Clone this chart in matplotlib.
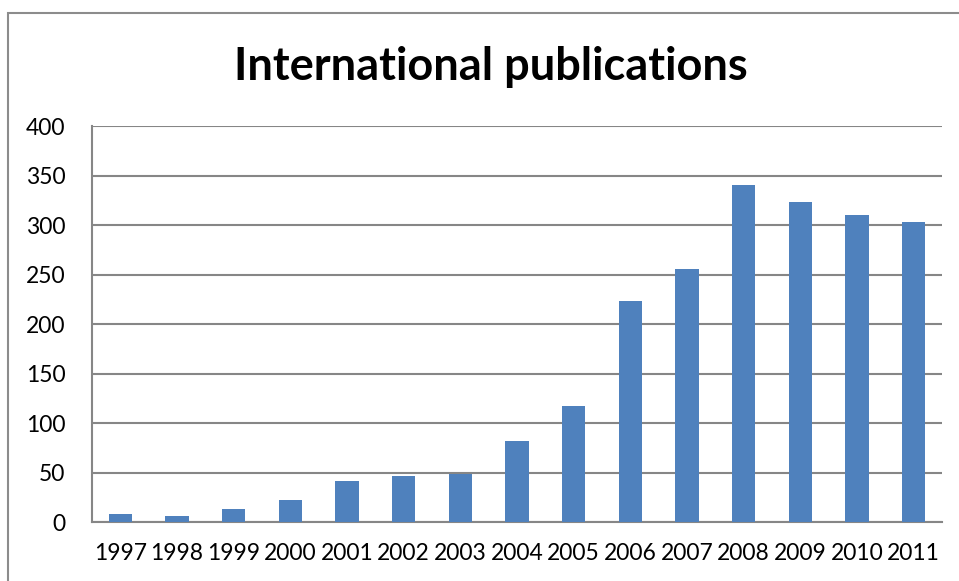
import matplotlib
matplotlib.use("Agg")
import matplotlib.pyplot as plt
from matplotlib.patches import Rectangle

years = ["1997", "1998", "1999", "2000", "2001", "2002", "2003", "2004",
         "2005", "2006", "2007", "2008", "2009", "2010", "2011"]
publications = [8, 6, 13, 22, 41, 46, 49, 82, 117, 223, 256, 340, 323, 310, 303]
yticks = [0, 50, 100, 150, 200, 250, 300, 350, 400]

plt.rcParams['font.family'] = ['Lato', 'DejaVu Sans']

fig = plt.figure(figsize=(9.59, 5.81), dpi=100)
ax = fig.add_axes([0.0959, 0.1015, 0.8864, 0.6816])

# outer chart frame, cut by the right and bottom image edges
fig.patches.append(Rectangle((8 / 959, -0.05), 1.1, 1 - 13 / 581 + 0.05,
                             transform=fig.transFigure, fill=False,
                             edgecolor='#8c8c8c', linewidth=1.5))

x = range(len(years))
ax.bar(x, publications, width=0.41, color='#4f81bd', zorder=3)

ax.set_xlim(-0.5, len(years) - 0.5)
ax.set_ylim(0, 400)
ax.set_yticks(yticks)
ax.set_xticks(list(x))
ax.set_xticklabels(years)
ax.tick_params(axis='both', length=0, labelsize=16.5, colors='black')
ax.tick_params(axis='x', pad=15)
ax.tick_params(axis='y', pad=19)
ax.yaxis.grid(True, color='#868686', linewidth=1.5, zorder=0)

for side in ['top', 'right']:
    ax.spines[side].set_visible(False)
for side in ['left', 'bottom']:
    ax.spines[side].set_color('#868686')
    ax.spines[side].set_linewidth(1.5)

fig.text(0.512, 0.885, "International publications", ha='center', va='center',
         fontsize=32.5, fontweight='bold')

fig.savefig("out.png", dpi=100)
